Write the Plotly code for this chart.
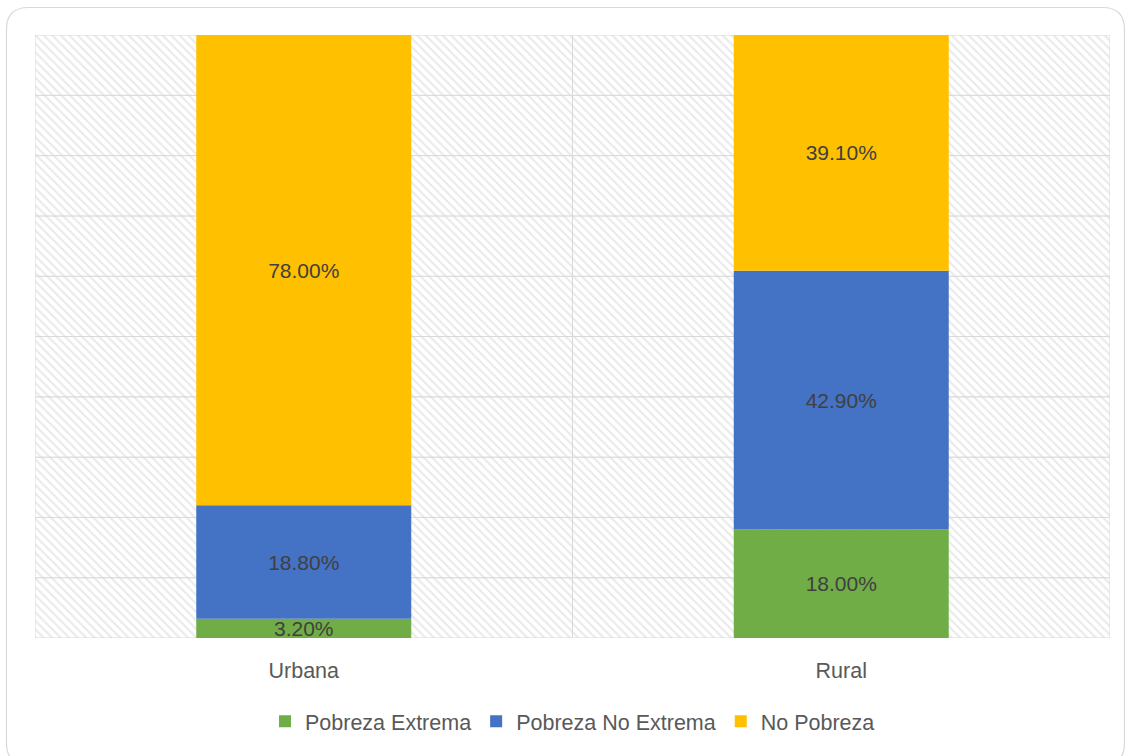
import numpy as np
import plotly.graph_objects as go

categories = ["Urbana", "Rural"]
series_names = ["Pobreza Extrema", "Pobreza No Extrema", "No Pobreza"]
pobreza_extrema = [3.2, 18.0]
pobreza_no_extrema = [18.8, 42.9]
no_pobreza = [78.0, 39.1]
grid_ticks = [0, 10, 20, 30, 40, 50, 60, 70, 80, 90, 100]

colors = ["#70AD47", "#4472C4", "#FFC000"]
FONT = "Liberation Sans Narrow, Arial Narrow, Liberation Sans, Arial, sans-serif"

W, H = 1130, 756
ML, MR, MT, MB = 35, 20, 35, 118
PW, PH = W - ML - MR, H - MT - MB

fig = go.Figure()

# hatched background cells (their borders act as gridlines)
bg_x, bg_y, bg_base = [], [], []
for c in categories:
    for lo, hi in zip(grid_ticks[:-1], grid_ticks[1:]):
        bg_x.append(c)
        bg_y.append(hi - lo)
        bg_base.append(lo)
fig.add_trace(go.Bar(
    x=bg_x, y=bg_y, base=bg_base, width=1.0, showlegend=False, hoverinfo="skip",
    marker=dict(color="white", line=dict(color="#d9d9d9", width=1),
                pattern=dict(shape="\\", fgcolor="#d4d4d4", bgcolor="white",
                             size=6, solidity=0.35)),
))

series = [pobreza_extrema, pobreza_no_extrema, no_pobreza]
cum = np.zeros(len(categories))
for name, vals, col in zip(series_names, series, colors):
    vals = np.array(vals)
    fig.add_trace(go.Bar(
        name=name, x=categories, y=vals, base=cum.copy(), width=0.4,
        marker=dict(color=col, line=dict(width=0)),
        texttemplate="%{y:.2f}%", textposition="inside", insidetextanchor="middle",
        constraintext="none", textangle=0, hoverinfo="skip",
        textfont=dict(family=FONT, size=21, color="#404040"),
    ))
    cum = cum + vals


def px_x(v):
    return (v - ML) / PW


def px_y(v):
    return (H - MB - v) / PH


# rounded outer frame
l, r, t, b, rad = 6.5, 1124.5, 7.5, 765, 22
path = (
    f"M {px_x(l + rad)},{px_y(t)} L {px_x(r - rad)},{px_y(t)} "
    f"Q {px_x(r)},{px_y(t)} {px_x(r)},{px_y(t + rad)} "
    f"L {px_x(r)},{px_y(b - rad)} Q {px_x(r)},{px_y(b)} {px_x(r - rad)},{px_y(b)} "
    f"L {px_x(l + rad)},{px_y(b)} Q {px_x(l)},{px_y(b)} {px_x(l)},{px_y(b - rad)} "
    f"L {px_x(l)},{px_y(t + rad)} Q {px_x(l)},{px_y(t)} {px_x(l + rad)},{px_y(t)} Z"
)
fig.add_shape(type="path", path=path, xref="paper", yref="paper",
              line=dict(color="#d9d9d9", width=1.2), layer="below")

fig.update_layout(
    width=W, height=H,
    margin=dict(l=ML, r=MR, t=MT, b=MB),
    barmode="overlay",
    paper_bgcolor="white", plot_bgcolor="white",
    font=dict(family=FONT, size=21.5, color="#595959"),
    showlegend=True,
    legend=dict(orientation="h", x=0.5, xanchor="center", y=-0.138, yanchor="middle",
                font=dict(family=FONT, size=21.5, color="#595959"),
                traceorder="normal", itemclick=False),
    xaxis=dict(showgrid=False, zeroline=False, showline=False, ticks="",
               ticklabelstandoff=17,
               tickfont=dict(family=FONT, size=21.5, color="#595959")),
    yaxis=dict(range=[0, 100], showgrid=False, zeroline=False, showline=False,
               showticklabels=False, tickvals=grid_ticks),
)

fig.write_html("out.html", config={"displayModeBar": False},
               post_script="document.body.style.margin='0';document.body.style.overflow='hidden';")
